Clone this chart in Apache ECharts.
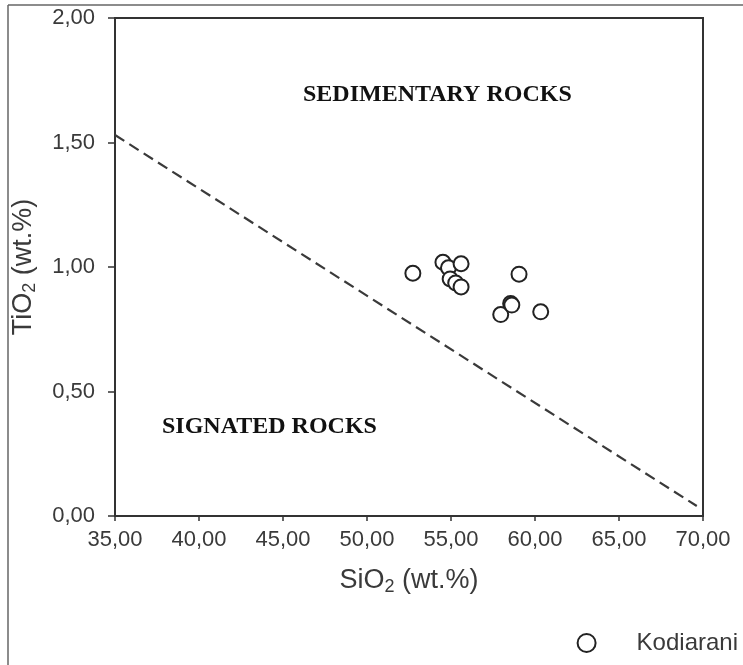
<!DOCTYPE html>
<html>
<head>
<meta charset="utf-8">
<script src="https://cdn.jsdelivr.net/npm/echarts@6/dist/echarts.min.js"></script>
<style>html,body{margin:0;padding:0;background:#fff;}#c{width:743px;height:665px;}</style>
</head>
<body>
<div id="c"></div>
<script>
// Data
const seriesName = 'Kodiarani';
const sio2 = [52.73, 54.52, 54.85, 55.60, 54.95, 55.28, 55.60, 57.96, 58.55, 58.62, 60.34, 59.05];
const tio2 = [0.975, 1.019, 0.997, 1.013, 0.952, 0.936, 0.920, 0.809, 0.853, 0.847, 0.820, 0.971];
const boundaryX = [35.0, 69.63];
const boundaryY = [1.53, 0.04];
const xTicks = [35, 40, 45, 50, 55, 60, 65, 70];
const yTicks = [0, 0.5, 1.0, 1.5, 2.0];
const regionLabels = ['SEDIMENTARY ROCKS', 'SIGNATED ROCKS'];

const fmt = v => v.toFixed(2).replace('.', ',');
const chart = echarts.init(document.getElementById('c'));
const points = sio2.map((x, i) => [x, tio2[i]]);
const boundary = boundaryX.map((x, i) => [x, boundaryY[i]]);
const sans = 'Liberation Sans, Arial';

chart.setOption({
  animation: false,
  backgroundColor: '#fff',
  grid: { left: 115, right: 40, top: 18, bottom: 149, show: true, borderColor: '#333', borderWidth: 2, backgroundColor: 'transparent' },
  xAxis: {
    type: 'value', min: xTicks[0], max: xTicks[xTicks.length - 1], interval: 5,
    axisLine: { lineStyle: { color: '#333', width: 2 } },
    axisTick: { show: true, length: 5, lineStyle: { color: '#333', width: 1.5 } },
    splitLine: { show: false },
    axisLabel: { formatter: fmt, color: '#3a3a3a', fontFamily: sans, fontSize: 22, margin: 13 },
    name: '{n|SiO}{s|2}{n| (wt.%)}', nameLocation: 'middle', nameGap: 50,
    nameTextStyle: { rich: {
      n: { fontFamily: sans, fontSize: 27, color: '#3a3a3a' },
      s: { fontFamily: sans, fontSize: 18, color: '#3a3a3a', verticalAlign: 'bottom', padding: [12, 0, 0, 0] }
    } }
  },
  yAxis: {
    type: 'value', min: yTicks[0], max: yTicks[yTicks.length - 1], interval: 0.5,
    axisLine: { lineStyle: { color: '#333', width: 2 } },
    axisTick: { show: true, length: 7, lineStyle: { color: '#333', width: 1.5 } },
    splitLine: { show: false },
    axisLabel: { formatter: fmt, color: '#3a3a3a', fontFamily: sans, fontSize: 22, margin: 20 },
    name: '{n|TiO}{s|2}{n| (wt.%)}', nameLocation: 'middle', nameGap: 76, nameRotate: 90,
    nameTextStyle: { rich: {
      n: { fontFamily: sans, fontSize: 27, color: '#3a3a3a' },
      s: { fontFamily: sans, fontSize: 18, color: '#3a3a3a', verticalAlign: 'bottom', padding: [12, 0, 0, 0] }
    } }
  },
  legend: {
    data: [{ name: seriesName, icon: 'emptyCircle' }],
    right: 0, bottom: 5, itemWidth: 18, itemHeight: 18, itemGap: 10,
    itemStyle: { color: '#222', borderColor: '#222', borderWidth: 2.8 },
    textStyle: { fontFamily: sans, fontSize: 24, color: '#3a3a3a', padding: [0, 0, 0, 36] }
  },
  series: [
    {
      type: 'line', data: boundary, symbol: 'none', silent: true,
      lineStyle: { color: '#3a3a3a', width: 2.2, type: [11, 6] }, z: 1
    },
    {
      name: seriesName, type: 'scatter', data: points, symbol: 'emptyCircle', symbolSize: 15,
      itemStyle: { color: '#222', borderColor: '#222', borderWidth: 2.7, opacity: 1 }, z: 3
    }
  ],
  graphic: [
    { type: 'line', shape: { x1: 8, y1: 5, x2: 743, y2: 5 }, style: { stroke: '#666', lineWidth: 1.5 } },
    { type: 'line', shape: { x1: 8, y1: 5, x2: 8, y2: 665 }, style: { stroke: '#666', lineWidth: 1.5 } },
    { type: 'text', left: 303, top: 83, style: { text: regionLabels[0], font: 'bold 24px "Liberation Serif", "Times New Roman", serif', fill: '#111' } },
    { type: 'text', left: 162, top: 415, style: { text: regionLabels[1], font: 'bold 24px "Liberation Serif", "Times New Roman", serif', fill: '#111' } }
  ]
});
</script>
</body>
</html>
